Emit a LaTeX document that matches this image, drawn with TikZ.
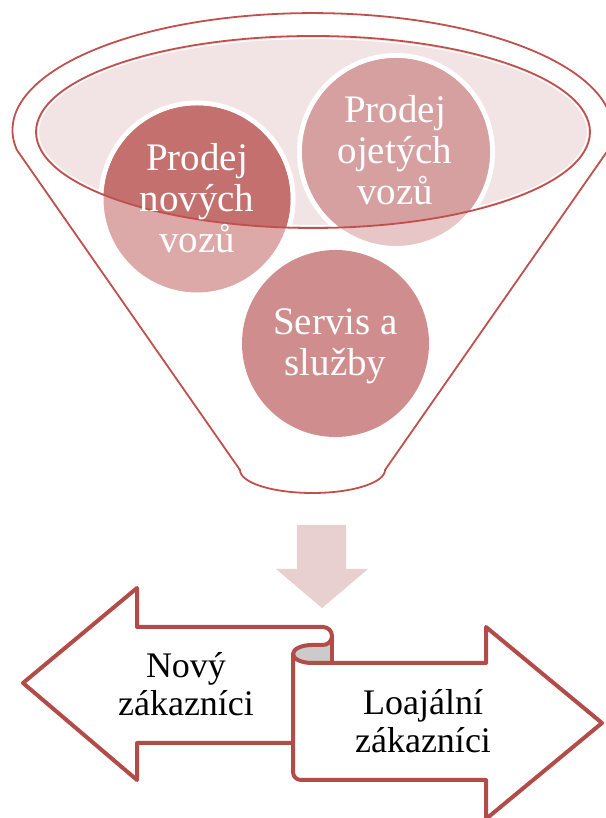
\documentclass[tikz,border=0pt]{standalone}
\usepackage{fontspec}
\setmainfont{Liberation Serif}
\definecolor{funnelred}{HTML}{C0504D}
\definecolor{lensfill}{HTML}{F2E4E5}
\definecolor{oneIn}{HTML}{C4706E}
\definecolor{oneOut}{HTML}{DCA8A8}
\definecolor{twoIn}{HTML}{D6A0A1}
\definecolor{twoOut}{HTML}{E8C6C8}
\definecolor{threeFill}{HTML}{CF8E8D}
\definecolor{downfill}{HTML}{E8CFD0}
\definecolor{ribbonred}{HTML}{B24C49}
\definecolor{curlgrey}{HTML}{CBCBCB}
\tikzset{
  funnelline/.style={draw=funnelred, line width=1.8pt},
  ribbonline/.style={draw=ribbonred, line width=4pt, line join=round, line cap=round},
  bubbletext/.style={text=white, align=center, inner sep=0pt, font=\fontsize{39}{41}\selectfont},
  ribbontext/.style={text=black, align=center, inner sep=0pt, font=\fontsize{36}{38}\selectfont}
}
\begin{document}
\begin{tikzpicture}[x=1pt,y=1pt]
\useasboundingbox (0,0) rectangle (605,818);

% funnel body: top rim arc, sloping sides, rounded spout
\draw[funnelline, line join=round]
  (16.9,668) arc[start angle=189.8, end angle=-9.8, x radius=300, y radius=117]
  -- (385,348) arc[start angle=0, end angle=-180, x radius=72.5, y radius=23]
  -- cycle;

% inner lens of the funnel
\fill[lensfill] (313,686) ellipse[x radius=277, y radius=96];
\draw[white, line width=1.2pt] (313,686) ellipse[x radius=274.5, y radius=93.5];

% bubbles with a white rim, darker where they lie inside the lens
\draw[white, line width=5pt, fill=oneOut] (197,619) circle[radius=96];
\draw[white, line width=5pt, fill=twoOut] (396,666) circle[radius=96.5];
\fill[threeFill] (335.5,474.5) circle[radius=93.5];
\begin{scope}
  \clip (313,686) ellipse[x radius=277, y radius=96];
  \fill[oneIn] (197,619) circle[radius=93.5];
  \fill[twoIn] (396,666) circle[radius=94];
\end{scope}

% lens outline over the bubbles
\draw[funnelline] (313,686) ellipse[x radius=277, y radius=96];

\node[bubbletext] (newcars) at (197,620.3) {Prodej\\nových\\vozů};
\node[bubbletext] (usedcars) at (395,668.3) {Prodej\\ojetých\\vozů};
\node[bubbletext] (service) at (335.5,472) {Servis a\\služby};

% block arrow below the funnel
\fill[downfill] (297,293) -- (346,293) -- (346,249) -- (368,249)
  -- (322,210) -- (276,249) -- (297,249) -- cycle;

% left-right ribbon
\fill[white] (323,191) -- (137,191) -- (137,230) -- (23,135) -- (137,38)
  -- (137,75) -- (293,75) -- (293,46) -- (301,38) -- (486,38) -- (486,-1)
  -- (602,95) -- (486,191) -- (486,155) -- (332,155) -- (332,182) -- cycle;
\fill[curlgrey] (332,173) -- (312,173)
  arc[start angle=90, end angle=270, x radius=19, y radius=9]
  -- (332,155) -- cycle;
\draw[ribbonline] (323,191) -- (137,191) -- (137,230) -- (23,135)
  -- (137,38) -- (137,75) -- (293,75);
\draw[ribbonline] (323,191) arc[start angle=90, end angle=-90, radius=9]
  -- (312,173) arc[start angle=90, end angle=180, x radius=19, y radius=9]
  -- (293,46) arc[start angle=180, end angle=270, radius=8]
  -- (486,38) -- (486,-1) -- (602,95) -- (486,191) -- (486,155) -- (312,155)
  arc[start angle=270, end angle=180, x radius=19, y radius=9];
\draw[ribbonline] (332,182) -- (332,155);

\node[ribbontext] (newcust) at (186,134) {Nový\\zákazníci};
\node[ribbontext] (loyalcust) at (423,96.8) {Loajální\\zákazníci};
\end{tikzpicture}
\end{document}
